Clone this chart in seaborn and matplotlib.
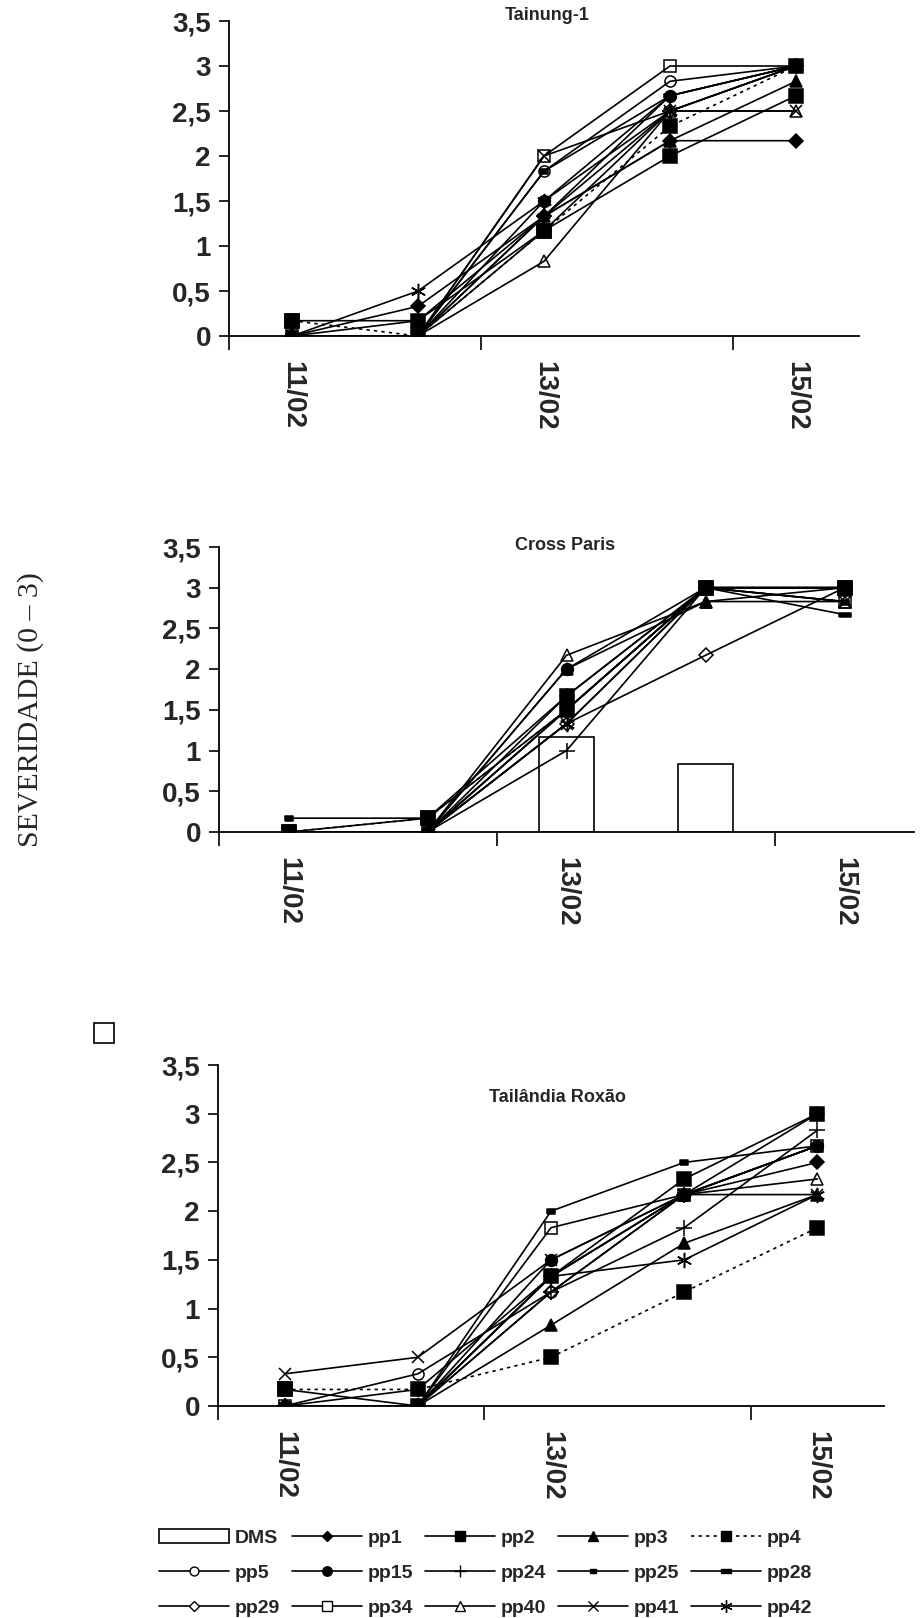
import numpy as np
import matplotlib
matplotlib.use('Agg')
import matplotlib.pyplot as plt
import seaborn as sns
from matplotlib.patches import Rectangle, Patch
from matplotlib.lines import Line2D
from matplotlib import font_manager

# --- data ---
dates = ['11/02', '12/02', '13/02', '14/02', '15/02']
shown_dates = ['11/02', '13/02', '15/02']
yticks = [0, 0.5, 1, 1.5, 2, 2.5, 3, 3.5]

tainung = {
    'pp1':  [0, 0.33, 1.33, 2.17, 2.17],
    'pp2':  [0.17, 0.17, 1.17, 2.0, 2.67],
    'pp3':  [0, 0, 1.33, 2.17, 2.83],
    'pp4':  [0.17, 0, 1.17, 2.33, 3.0],
    'pp5':  [0, 0, 1.83, 2.83, 3.0],
    'pp15': [0, 0, 1.5, 2.67, 3.0],
    'pp24': [0, 0, 1.33, 2.5, 3.0],
    'pp25': [0, 0, 1.83, 2.67, 3.0],
    'pp28': [0, 0.17, 1.33, 2.67, 3.0],
    'pp29': [0, 0, 1.17, 2.5, 3.0],
    'pp34': [0, 0, 2.0, 3.0, 3.0],
    'pp40': [0, 0, 0.83, 2.5, 2.5],
    'pp41': [0, 0, 2.0, 2.5, 2.5],
    'pp42': [0, 0.5, 1.5, 2.5, 3.0],
}

cross_paris = {
    'pp1':  [0, 0, 1.67, 3.0, 3.0],
    'pp2':  [0, 0.17, 1.67, 3.0, 3.0],
    'pp3':  [0, 0, 2.0, 2.83, 3.0],
    'pp4':  [0, 0.17, 1.5, 3.0, 3.0],
    'pp5':  [0, 0, 1.5, 3.0, 3.0],
    'pp15': [0, 0, 2.0, 3.0, 3.0],
    'pp24': [0, 0, 1.0, 3.0, 3.0],
    'pp25': [0.17, 0.17, 1.5, 3.0, 2.83],
    'pp28': [0, 0, 1.5, 3.0, 2.67],
    'pp29': [0, 0, 1.33, 2.17, 3.0],
    'pp34': [0, 0, 1.5, 3.0, 2.83],
    'pp40': [0, 0, 2.17, 2.83, 2.83],
    'pp41': [0, 0, 1.33, 3.0, 2.83],
    'pp42': [0, 0, 1.33, 3.0, 3.0],
}
dms_dates = ['13/02', '14/02']
dms_values = [1.17, 0.83]

tailandia = {
    'pp1':  [0, 0, 1.33, 2.17, 2.5],
    'pp2':  [0.17, 0, 1.33, 2.33, 3.0],
    'pp3':  [0, 0, 0.83, 1.67, 2.17],
    'pp4':  [0.17, 0.17, 0.5, 1.17, 1.83],
    'pp5':  [0, 0.33, 1.17, 2.17, 2.67],
    'pp15': [0, 0, 1.5, 2.17, 2.67],
    'pp24': [0, 0, 1.17, 1.83, 2.83],
    'pp25': [0, 0, 2.0, 2.5, 2.67],
    'pp28': [0, 0, 1.33, 2.17, 2.67],
    'pp29': [0, 0, 1.17, 2.17, 3.0],
    'pp34': [0, 0, 1.83, 2.17, 2.67],
    'pp40': [0, 0, 1.33, 2.17, 2.33],
    'pp41': [0.33, 0.5, 1.5, 2.17, 2.17],
    'pp42': [0, 0.17, 1.33, 1.5, 2.17],
}

# --- styles ---
small_rect = [(-1, -0.6), (1, -0.6), (1, 0.6), (-1, 0.6), (-1, -0.6)]
wide_rect = [(-1.6, -0.5), (1.6, -0.5), (1.6, 0.5), (-1.6, 0.5), (-1.6, -0.5)]
dotted = (0, (2, 2.5))
styles = {
    'pp1':  dict(marker='D', ms=7, mfc='black', ls='-'),
    'pp2':  dict(marker='s', ms=9.5, mfc='black', ls='-'),
    'pp3':  dict(marker='^', ms=9, mfc='black', ls='-'),
    'pp4':  dict(marker='s', ms=9.5, mfc='black', ls=dotted),
    'pp5':  dict(marker='o', ms=8, mfc='none', ls='-'),
    'pp15': dict(marker='o', ms=8.5, mfc='black', ls='-'),
    'pp24': dict(marker='+', ms=11, mfc='black', ls='-'),
    'pp25': dict(marker=small_rect, ms=6, mfc='black', ls='-'),
    'pp28': dict(marker=wide_rect, ms=9, mfc='black', ls='-'),
    'pp29': dict(marker='D', ms=7, mfc='none', ls='-'),
    'pp34': dict(marker='s', ms=9, mfc='none', ls='-'),
    'pp40': dict(marker='^', ms=9, mfc='none', ls='-'),
    'pp41': dict(marker='x', ms=9, mfc='black', ls='-'),
    'pp42': dict(marker=(6, 2, 0), ms=11, mfc='black', ls='-'),
}

sns.set_theme(style='white')
avail = {f.name for f in font_manager.fontManager.ttflist}
narrow = 'Liberation Sans Narrow' if 'Liberation Sans Narrow' in avail else 'Liberation Sans'
plt.rcParams['font.family'] = [narrow, 'DejaVu Sans']
plt.rcParams['font.weight'] = 'bold'

fig = plt.figure(figsize=(9.23, 16.18), dpi=100)
W, H = 923.0, 1618.0


def px_axes(left, right, top, bottom):
    return fig.add_axes([left / W, 1 - bottom / H, (right - left) / W, (bottom - top) / H])


def draw_panel(ax, data, title, title_xy, bars=False):
    x = np.arange(len(dates))
    if bars:
        sns.barplot(x=dms_dates, y=dms_values, order=dates, ax=ax, color='white',
                    edgecolor='black', linewidth=1.2, width=0.4, zorder=1)
    # later series first so the filled pp1/pp2 markers end up on top
    for name in reversed(list(data)):
        vals = data[name]
        st = styles[name]
        sns.lineplot(x=x, y=vals, ax=ax, color='black', linewidth=1.2, linestyle=st['ls'],
                     marker=st['marker'], markersize=st['ms'], markerfacecolor=st['mfc'],
                     markeredgecolor='black', markeredgewidth=1.1, zorder=3)
    ax.set_xlim(-0.5, 4.5)
    ax.set_ylim(0, 3.5)
    ax.set_xlabel('')
    ax.set_ylabel('')
    for s in ['top', 'right']:
        ax.spines[s].set_visible(False)
    for s in ['left', 'bottom']:
        ax.spines[s].set_color('black')
        ax.spines[s].set_linewidth(1.3)
    ax.set_yticks(yticks)
    ax.set_yticklabels([('%g' % t).replace('.', ',') for t in yticks],
                       fontsize=20, fontweight='bold')
    ax.set_xticks([-0.5, 1.5, 3.5])
    ax.set_xticklabels(['', '', ''])
    ax.set_xticks([0, 2, 4], minor=True)
    ax.set_xticklabels(shown_dates, minor=True, rotation=-90, fontsize=20, fontweight='bold')
    ax.tick_params(axis='y', which='major', direction='out', length=7, width=1.2,
                   color='black', pad=6, left=True)
    ax.tick_params(axis='x', which='major', direction='out', length=10, width=1.2,
                   color='black', bottom=True)
    ax.tick_params(axis='x', which='minor', length=0, pad=18, bottom=True)
    ax.grid(False)
    ax.patch.set_alpha(0)
    fig.text(title_xy[0] / W, 1 - title_xy[1] / H, title, ha='center', va='center',
             fontsize=13, fontweight='bold')


ax1 = px_axes(229, 859, 21, 336)
draw_panel(ax1, tainung, 'Tainung-1', (547, 15))
ax2 = px_axes(219, 914, 547, 832)
draw_panel(ax2, cross_paris, 'Cross Paris', (565, 545), bars=True)
ax3 = px_axes(218, 884, 1065, 1406)
draw_panel(ax3, tailandia, 'Tailândia Roxão', (557, 1097))

fig.text(31 / W, 1 - 710 / H, 'SEVERIDADE (0 – 3)', rotation=90, ha='center', va='center',
         fontsize=21.5, fontweight='normal', family=['Liberation Serif', 'DejaVu Serif'])

# stray empty square on the left
fig.patches.append(Rectangle((94 / W, 1 - 1043 / H), 20 / W, 20 / H, transform=fig.transFigure,
                             facecolor='white', edgecolor='black', linewidth=1.2))

# legend
handles = {'DMS': Patch(facecolor='white', edgecolor='black', linewidth=1.2)}
for name in tainung:
    st = styles[name]
    handles[name] = Line2D([], [], color='black', linewidth=1.2, linestyle=st['ls'],
                           marker=st['marker'], markersize=st['ms'] * 0.8,
                           markerfacecolor=('white' if st['mfc'] == 'none' else st['mfc']),
                           markeredgecolor='black')
rows = [['DMS', 'pp1', 'pp2', 'pp3', 'pp4'],
        ['pp5', 'pp15', 'pp24', 'pp25', 'pp28'],
        ['pp29', 'pp34', 'pp40', 'pp41', 'pp42']]
order = [rows[r][c] for c in range(5) for r in range(3)]
fig.legend([handles[k] for k in order], order, ncol=5, loc='lower left',
           bbox_to_anchor=(158 / W, 0.0), frameon=False,
           prop={'weight': 'bold', 'size': 14}, handlelength=3.6, handletextpad=0.3,
           columnspacing=0.6, labelspacing=0.9, borderaxespad=0.0, borderpad=0.05)

fig.savefig('out.png', dpi=100)
